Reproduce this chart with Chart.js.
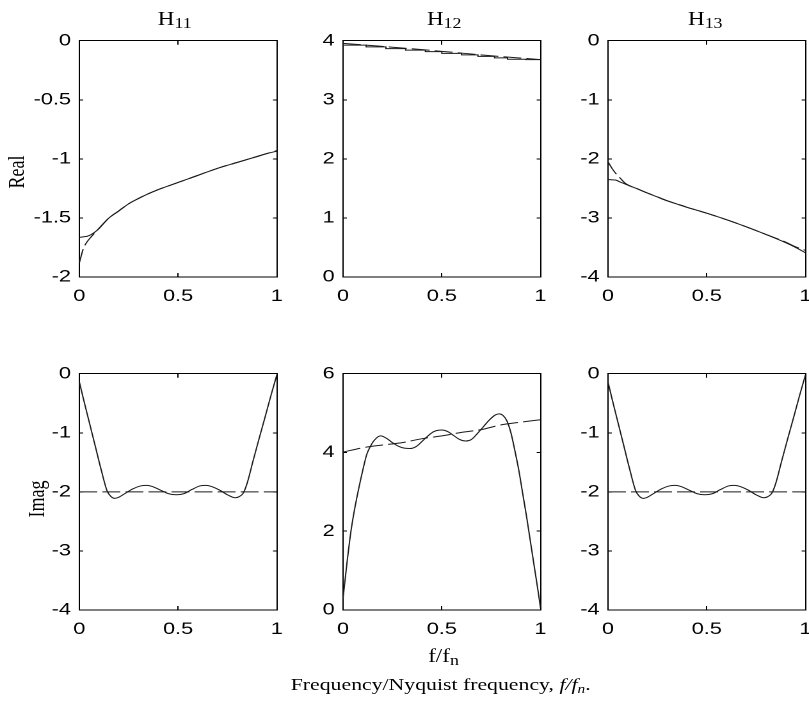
<!DOCTYPE html>
<html>
<head>
<meta charset="utf-8">
<script src="https://cdn.jsdelivr.net/npm/chart.js@4.4.0/dist/chart.umd.min.js"></script>
<style>
  html, body { margin: 0; padding: 0; background: #fff; overflow: hidden; }
  #fig { position: absolute; left: 0; top: 0; width: 632px; height: 703px;
         transform: scaleX(1.28); transform-origin: 0 0; }
  #fig canvas { position: absolute; }
  .lbl { position: absolute; font-family: "Liberation Serif", "Times New Roman", serif;
         color: #000; white-space: nowrap; line-height: 1; font-size: 18px; }
  .ttl { transform: translateX(-50%); top: 9.9px; }
  .sb { font-size: 14px; position: relative; top: 3px; }
  .rot { transform: translate(-50%, -50%) rotate(-90deg); }
</style>
</head>
<body>
<div id="fig">
  <div class="lbl ttl" style="left:136.5px">H<span class="sb">11</span></div>
  <div class="lbl ttl" style="left:347px">H<span class="sb">12</span></div>
  <div class="lbl ttl" style="left:551px">H<span class="sb">13</span></div>
  <div class="lbl rot" style="left:13px; top:172px">Real</div>
  <div class="lbl rot" style="left:28.4px; top:499px">Imag</div>
  <div class="lbl ttl" style="left:346.5px; top:646.6px">f/f<span class="sb">n</span></div>
  <div class="lbl ttl" style="left:344.3px; top:675.8px; font-size:17px">Frequency/Nyquist frequency, <i>f/f<span class="sb" style="font-size:12px">n</span></i>.</div>
</div>

<script>
// --- data (x = f/fn) ---
const freqReal = [0, 0.02, 0.04, 0.06, 0.09, 0.15, 0.2, 0.25, 0.3, 0.35, 0.4, 0.5, 0.6, 0.7, 0.8, 0.9, 0.95, 1];
const h11RealFit    = [-1.665, -1.66, -1.655, -1.64, -1.605, -1.50, -1.44, -1.38, -1.335, -1.295, -1.26, -1.20, -1.14, -1.08, -1.03, -0.98, -0.955, -0.935];
const h11RealTarget = [-1.88, -1.76, -1.70, -1.66, -1.605, -1.50, -1.44, -1.38, -1.335, -1.295, -1.26, -1.20, -1.14, -1.08, -1.03, -0.98, -0.955, -0.93];
const h13RealFit    = [-2.35, -2.355, -2.36, -2.39, -2.43, -2.51, -2.58, -2.645, -2.71, -2.765, -2.82, -2.92, -3.03, -3.15, -3.28, -3.42, -3.50, -3.59];
const h13RealTarget = [-2.05, -2.16, -2.25, -2.32, -2.42, -2.51, -2.58, -2.645, -2.71, -2.765, -2.82, -2.92, -3.03, -3.15, -3.28, -3.41, -3.49, -3.55];

const freqStep = [0, 0.117, 0.217, 0.317, 0.417, 0.5, 0.6, 0.683, 0.767, 0.833, 0.925, 1];
const h12RealFit = [3.96, 3.925, 3.895, 3.865, 3.84, 3.815, 3.785, 3.76, 3.735, 3.71, 3.685, 3.68];
const freqCoarse = [0, 0.25, 0.5, 0.75, 1];
const h12RealTarget = [3.955, 3.89, 3.82, 3.745, 3.68];

const freqImag = [0, 0.02, 0.05, 0.08, 0.11, 0.14, 0.16, 0.18, 0.20, 0.23, 0.27, 0.31, 0.34, 0.37, 0.41, 0.45, 0.49,
                  0.53, 0.57, 0.61, 0.64, 0.67, 0.71, 0.75, 0.79, 0.81, 0.83, 0.85, 0.88, 0.91, 0.94, 0.97, 1];
const h11ImagFit = [-0.14, -0.42, -0.82, -1.22, -1.62, -1.98, -2.08, -2.11, -2.09, -2.03, -1.95, -1.90, -1.89, -1.91, -1.97, -2.03, -2.05,
                    -2.03, -1.96, -1.90, -1.89, -1.91, -1.97, -2.05, -2.10, -2.08, -2.02, -1.85, -1.47, -1.10, -0.74, -0.37, -0.02];
const h13ImagFit = [-0.14, -0.42, -0.82, -1.22, -1.62, -1.98, -2.08, -2.11, -2.09, -2.03, -1.95, -1.90, -1.89, -1.91, -1.97, -2.03, -2.05,
                    -2.03, -1.96, -1.90, -1.89, -1.91, -1.97, -2.05, -2.10, -2.08, -2.02, -1.85, -1.47, -1.10, -0.74, -0.37, -0.02];
const freqEnds = [0, 1];
const h11ImagTarget = [-2, -2];
const h13ImagTarget = [-2, -2];

const freqImag12 = [0, 0.02, 0.04, 0.06, 0.08, 0.10, 0.12, 0.14, 0.16, 0.19, 0.22, 0.25, 0.28, 0.31, 0.34, 0.37, 0.40, 0.43, 0.46, 0.50,
                    0.53, 0.56, 0.59, 0.62, 0.65, 0.68, 0.71, 0.74, 0.77, 0.79, 0.81, 0.83, 0.85, 0.87, 0.89, 0.91, 0.93, 0.95, 0.97, 0.99, 1];
const h12ImagFit = [0.3, 1.2, 2.0, 2.6, 3.1, 3.55, 3.95, 4.17, 4.32, 4.42, 4.36, 4.25, 4.16, 4.11, 4.10, 4.15, 4.28, 4.42, 4.53, 4.57,
                    4.53, 4.43, 4.33, 4.29, 4.33, 4.48, 4.65, 4.82, 4.95, 4.98, 4.94, 4.80, 4.50, 4.05, 3.55, 2.95, 2.35, 1.70, 1.05, 0.40, 0.05];
const freqTenth = [0, 0.1, 0.2, 0.3, 0.4, 0.5, 0.6, 0.7, 0.8, 0.9, 1];
const h12ImagTarget = [4.01, 4.12, 4.19, 4.25, 4.35, 4.42, 4.51, 4.58, 4.70, 4.77, 4.83];

// axis limits: [min, max, step]
const realRanges = [[-2, 0, 0.5], [0, 4, 1], [-4, 0, 1]];
const imagRanges = [[-4, 0, 1], [0, 6, 2], [-4, 0, 1]];
const xRange = [0, 1, 0.5];

// --- layout (real px are divided by the stretch S) ---
const S = 1.28;
const colLeft = [79, 343.3, 608.3];
const rowTop = [34.5, 367.8];
const PW = 156, PH = 242, YW = 50, PR = 16, PT = 14, XH = 40;
const fig = document.getElementById('fig');
const tickFont = { family: 'Liberation Sans, Arial, sans-serif', size: 17 };

function pts(xs, ys) {
    return xs.map((x, i) => ({ x: x, y: ys[i] }));
}

function fitLine(xs, ys, stepped) {
    return {
        data: pts(xs, ys), borderColor: '#1a1a1a', borderWidth: 1,
        cubicInterpolationMode: 'monotone', stepped: stepped || false
    };
}

function targetLine(xs, ys) {
    return {
        data: pts(xs, ys), borderColor: '#1a1a1a', borderWidth: 1,
        borderDash: [14, 4], cubicInterpolationMode: 'monotone'
    };
}

// matlab style tick text: 0, 0.5, 1, -1.5 ...
const tickText = v => String(Math.round(v * 100) / 100);

function axis(position, min, max, step, showLabels, tl, size) {
    const horiz = position === 'top' || position === 'bottom';
    return {
        type: 'linear', position: position, min: min, max: max,
        ticks: {
            stepSize: step, display: showLabels, font: tickFont, color: '#000',
            padding: horiz ? 13 : 9.5, maxRotation: 0, autoSkip: false, callback: tickText
        },
        grid: { drawOnChartArea: false, drawTicks: true, tickLength: tl, color: '#000' },
        border: { display: true, color: '#000', width: 1 },
        afterFit: s => { if (horiz) s.height = size; else s.width = size; }
    };
}

function makePanel(col, row, range, datasets) {
    const c = document.createElement('canvas');
    const w = YW + PW + PR, h = PT + PH + XH;
    c.width = w; c.height = h;
    c.style.width = w + 'px'; c.style.height = h + 'px';
    c.style.left = (colLeft[col] / S - YW) + 'px';
    c.style.top = (rowTop[row] - PT) + 'px';
    fig.appendChild(c);

    new Chart(c, {
        type: 'line',
        data: { datasets: datasets },
        options: {
            responsive: false, animation: false, devicePixelRatio: 2,
            layout: { padding: { top: PT, right: PR, left: 0, bottom: 0 } },
            plugins: { legend: { display: false }, tooltip: { enabled: false } },
            elements: { point: { radius: 0 } },
            scales: {
                x:  axis('bottom', xRange[0], xRange[1], xRange[2], true, -4, XH),
                x2: axis('top', xRange[0], xRange[1], xRange[2], false, -4, 0),
                y:  axis('left', range[0], range[1], range[2], true, -3, YW),
                y2: axis('right', range[0], range[1], range[2], false, -3, 0)
            }
        }
    });
}

makePanel(0, 0, realRanges[0], [fitLine(freqReal, h11RealFit), targetLine(freqReal, h11RealTarget)]);
makePanel(1, 0, realRanges[1], [fitLine(freqStep, h12RealFit, 'after'), targetLine(freqCoarse, h12RealTarget)]);
makePanel(2, 0, realRanges[2], [fitLine(freqReal, h13RealFit), targetLine(freqReal, h13RealTarget)]);
makePanel(0, 1, imagRanges[0], [fitLine(freqImag, h11ImagFit), targetLine(freqEnds, h11ImagTarget)]);
makePanel(1, 1, imagRanges[1], [fitLine(freqImag12, h12ImagFit), targetLine(freqTenth, h12ImagTarget)]);
makePanel(2, 1, imagRanges[2], [fitLine(freqImag, h13ImagFit), targetLine(freqEnds, h13ImagTarget)]);
</script>
</body>
</html>
